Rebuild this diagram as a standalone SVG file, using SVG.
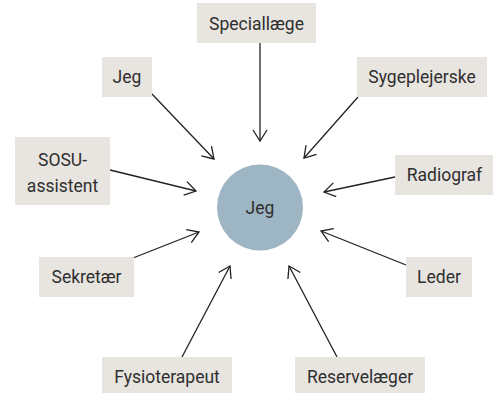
<svg xmlns="http://www.w3.org/2000/svg" width="493" height="393" viewBox="0 0 493 393">
  <style>
    .box { fill: #e8e4e0; }
    .lbl { font-family: Roboto, "Open Sans", sans-serif; font-size: 17.5px; fill: #2f2f2f; text-anchor: middle; }
    .conn { stroke: #222; stroke-width: 1.3; fill: none; marker-end: url(#arr); }
  </style>
  <defs>
    <marker id="arr" viewBox="-13 -9 15 18" refX="0" refY="0" markerWidth="15" markerHeight="18" markerUnits="userSpaceOnUse" orient="auto">
      <path d="M-11,-7 L0,0 L-11,7" fill="none" stroke="#222" stroke-width="1.3"/>
    </marker>
  </defs>
  <rect width="493" height="393" fill="#ffffff"/>

  <g id="connectors">
    <line class="conn" x1="260" y1="43" x2="260" y2="141"/>
    <line class="conn" x1="152" y1="94" x2="214" y2="159"/>
    <line class="conn" x1="358" y1="97" x2="304" y2="158"/>
    <line class="conn" x1="110" y1="170" x2="196" y2="191"/>
    <line class="conn" x1="395" y1="177" x2="324" y2="192"/>
    <line class="conn" x1="133" y1="258" x2="199" y2="232"/>
    <line class="conn" x1="406" y1="265" x2="321" y2="231"/>
    <line class="conn" x1="182" y1="357" x2="230" y2="266"/>
    <line class="conn" x1="337" y1="357" x2="289" y2="266"/>
  </g>

  <g id="center">
    <circle cx="260" cy="207.5" r="43" fill="#9eb5c3"/>
    <text class="lbl" x="260" y="214">Jeg</text>
  </g>
  <g id="speciallaege">
    <rect class="box" x="197" y="3" width="119" height="40"/>
    <text class="lbl" x="256.5" y="29.5">Speciallæge</text>
  </g>
  <g id="jeg">
    <rect class="box" x="102" y="57" width="50" height="40"/>
    <text class="lbl" x="127" y="83">Jeg</text>
  </g>
  <g id="sygeplejerske">
    <rect class="box" x="357" y="57" width="130" height="40"/>
    <text class="lbl" x="422" y="83">Sygeplejerske</text>
  </g>
  <g id="sosu">
    <rect class="box" x="15" y="137" width="95" height="68"/>
    <text class="lbl" x="62.5" y="165.5">SOSU-</text>
    <text class="lbl" x="62.5" y="192">assistent</text>
  </g>
  <g id="radiograf">
    <rect class="box" x="395" y="155" width="98" height="40"/>
    <text class="lbl" x="444.5" y="181">Radiograf</text>
  </g>
  <g id="sekretaer">
    <rect class="box" x="39" y="257" width="95" height="40"/>
    <text class="lbl" x="86.5" y="283">Sekretær</text>
  </g>
  <g id="leder">
    <rect class="box" x="406" y="257" width="66" height="40"/>
    <text class="lbl" x="439" y="283">Leder</text>
  </g>
  <g id="fysioterapeut">
    <rect class="box" x="102" y="357" width="130" height="40"/>
    <text class="lbl" x="167" y="383">Fysioterapeut</text>
  </g>
  <g id="reservelaeger">
    <rect class="box" x="295" y="357" width="130" height="40"/>
    <text class="lbl" x="360" y="383">Reservelæger</text>
  </g>
</svg>
